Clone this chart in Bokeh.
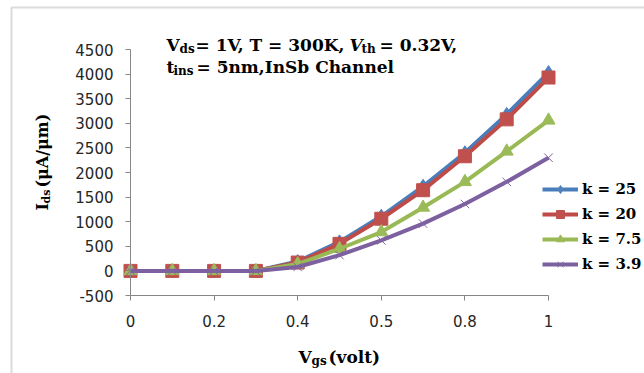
import math
from bokeh.plotting import figure
from bokeh.models import Label, FixedTicker, BoxAnnotation, Legend, LegendItem
from bokeh.embed import file_html
from bokeh.resources import INLINE

# ---- data ----
vgs = [0.0, 0.1, 0.2, 0.3, 0.4, 0.5, 0.6, 0.7, 0.8, 0.9, 1.0]
k25 = [0, 0, 0, 0, 190, 590, 1110, 1720, 2400, 3180, 4030]
k20 = [0, 0, 0, 0, 170, 550, 1060, 1640, 2330, 3080, 3930]
k75 = [0, 0, 0, 0, 140, 450, 790, 1290, 1810, 2430, 3060]
k39 = [0, 0, 0, 0, 80, 320, 620, 960, 1360, 1810, 2300]
series_labels = ["k = 25", "k = 20", "k = 7.5", "k = 3.9"]
x_ticks = [0, 0.2, 0.4, 0.6, 0.8, 1.0]
x_tick_labels = ["0", "0.2", "0.4", "0.5", "0.8", "1"]
y_ticks = [-500, 0, 500, 1000, 1500, 2000, 2500, 3000, 3500, 4000, 4500]
x_min, x_max = 0.0, 1.0
y_min, y_max = -500, 4500

# ---- layout (page pixels) ----
W, H = 644, 373
PL, PR, PT, PB = 130, 548, 49, 295      # plot-area edges
sx_ = (PR - PL) / (x_max - x_min)
sy_ = (PB - PT) / (y_max - y_min)
xr = (x_min - PL / sx_, x_max + (W - PR) / sx_)
yr = (y_min - (H - PB) / sy_, y_max + PT / sy_)

p = figure(width=W, height=H, x_range=xr, y_range=yr,
           output_backend="svg", toolbar_location=None,
           min_border=0)
p.outline_line_color = None
p.grid.visible = False
p.background_fill_color = "white"
p.border_fill_color = "white"

AX = "#868686"
for ax in (p.xaxis, p.yaxis):
    ax.axis_line_color = AX
    ax.major_tick_line_color = AX
    ax.minor_tick_line_color = None
    ax.major_tick_in = 0
    ax.major_label_text_font = "DejaVu Sans"
    ax.major_label_text_font_size = "15px"
    ax.major_label_text_color = "#262626"

p.xaxis.fixed_location = y_min
p.xaxis.bounds = (x_min, x_max)
p.xaxis.ticker = FixedTicker(ticks=x_ticks)
p.xaxis.major_label_overrides = {t: s for t, s in zip(x_ticks, x_tick_labels)}
p.xaxis.major_tick_out = 5
p.xaxis.major_label_standoff = 14
p.yaxis.fixed_location = x_min
p.yaxis.bounds = (y_min, y_max)
p.yaxis.ticker = FixedTicker(ticks=y_ticks)
p.yaxis.major_label_overrides = {t: str(t) for t in y_ticks}
p.yaxis.major_tick_out = 5
p.yaxis.major_label_standoff = 12

styles = [
    (k25, "#4A7EBB", "#4F81BD", "diamond", 14),
    (k20, "#BE4B48", "#C0504D", "square", 13),
    (k75, "#98B954", "#9BBB59", "triangle", 13),
    (k39, "#7D60A0", "#8064A2", "x", 12),
]
items = []
for (vals, lc, mc, mk, sz), lab_ in zip(styles, series_labels):
    r1 = p.line(vgs, vals, line_color=lc, line_width=4)
    if mk == "x":
        r2 = p.scatter(vgs, vals, marker=mk, size=sz, line_color=mc, line_width=1)
    else:
        r2 = p.scatter(vgs, vals, marker=mk, size=sz, fill_color=mc, line_color=mc)
    items.append(LegendItem(label=lab_, renderers=[r1, r2]))

leg = Legend(items=items, location=(542, H - 274))
leg.background_fill_alpha = 0
leg.border_line_color = None
leg.padding = 0
leg.margin = 0
leg.spacing = 5
leg.glyph_width = 36
leg.glyph_height = 20
leg.label_standoff = 4
leg.label_text_font = "DejaVu Serif"
leg.label_text_font_style = "bold"
leg.label_text_font_size = "15px"
leg.label_text_color = "black"
p.add_layout(leg, "center")

# chart-area frame (cropped at right and bottom, as in the reference)
p.add_layout(BoxAnnotation(left=11, right=W + 50, top=H - 7, bottom=-50,
                           left_units="screen", right_units="screen",
                           top_units="screen", bottom_units="screen",
                           fill_alpha=0, line_color="#888888", line_width=2))


def lab(text, px, py, size, style="bold", angle=0.0):
    p.add_layout(Label(x=px, y=H - py, x_units="screen", y_units="screen",
                       text=text, text_font="DejaVu Serif", text_font_size=f"{size}px",
                       text_font_style=style, text_baseline="alphabetic",
                       text_align="left", angle=angle, text_color="black"))


# title lines
lab("V", 166, 44, 17)
lab("ds", 179, 48, 12)
lab("= 1V, T = 300K,", 195, 44, 17)
lab("V", 349, 44, 17, "bold italic")
lab("th", 361, 48, 12)
lab("= 0.32V,", 379, 44, 17)
lab("t", 166, 66, 17)
lab("ins", 173, 70, 12)
lab("= 5nm,InSb Channel", 196, 66, 17)

# x-axis title
lab("V", 298, 356, 17)
lab("gs", 311, 360, 12)
lab("(volt)", 328, 356, 17)

# y-axis title (rotated)
A = math.pi / 2
lab("I", 42, 210, 16, angle=A)
lab("ds", 46, 203, 11, angle=A)
lab("(μA/μm)", 42, 187, 16, angle=A)

open("out.html", "w").write(file_html(p, INLINE))
